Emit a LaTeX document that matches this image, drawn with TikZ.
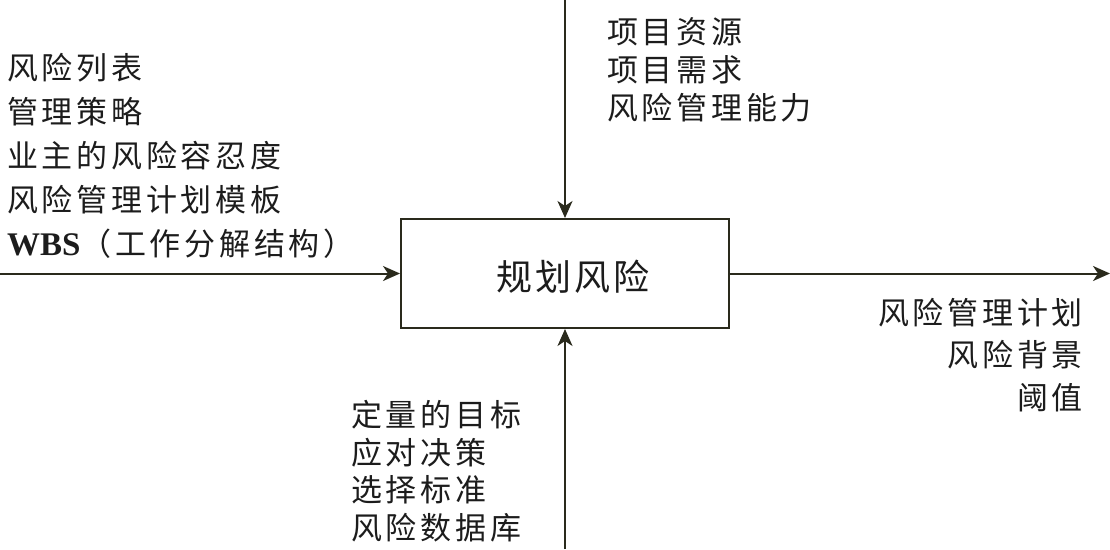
\documentclass[tikz,border=0pt]{standalone}
\usepackage{fontspec}
\setmainfont{Liberation Serif}
\newfontfamily\cjk[LetterSpace=12]{Noto Sans CJK SC}
\newfontfamily\cjkbox[LetterSpace=8]{Noto Sans CJK SC}
\usetikzlibrary{arrows.meta}
\definecolor{ink}{HTML}{2A2A1C}
\definecolor{txt}{HTML}{1C1C1C}
\begin{document}
\begin{tikzpicture}[x=1pt,y=-1pt,
  flow/.style={draw=ink,line width=2pt,-{Stealth[length=17pt,width=15pt,inset=5pt]}},
  lbl/.style={text=txt,inner sep=0pt,font=\cjk\fontsize{31}{44}\selectfont},
  procbox/.style={draw=ink,line width=2pt,minimum width=328pt,minimum height=109pt,inner sep=0pt}]
\useasboundingbox (0,0) rectangle (1110,549);
\fill[white] (0,0) rectangle (1110,549);
\node[procbox] (box) at (565,273.5) {};
\node[text=txt,inner sep=0pt,font=\cjkbox\fontsize{36}{40}\selectfont] (boxlbl) at (573,277) {规划风险};
\coordinate (inL) at (0,273.5);
\coordinate (inT) at (565,0);
\coordinate (inB) at (565,549);
\coordinate (outR) at (1110,273.5);
\draw[flow] (inL) -- (box.west);
\draw[flow] (inT) -- (box.north);
\draw[flow] (inB) -- (box.south);
\draw[flow] (box.east) -- (outR);
\node[lbl,anchor=west,align=left] (leftlbl) at (7,156) {风险列表\\管理策略\\业主的风险容忍度\\风险管理计划模板\\{\rmfamily\bfseries\fontsize{33}{44}\selectfont WBS}（工作分解结构）};
\node[lbl,anchor=west,align=left,font=\cjk\fontsize{31}{38}\selectfont] (toplbl) at (607,70) {项目资源\\项目需求\\风险管理能力};
\node[lbl,anchor=east,align=right,font=\cjk\fontsize{31}{42.5}\selectfont] (rightlbl) at (1083,355) {风险管理计划\\风险背景\\阈值};
\node[lbl,anchor=west,align=left,font=\cjk\fontsize{31}{37.5}\selectfont] (botlbl) at (351,471) {定量的目标\\应对决策\\选择标准\\风险数据库};
\end{tikzpicture}
\end{document}
